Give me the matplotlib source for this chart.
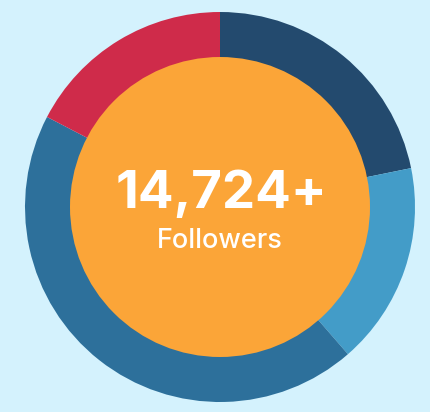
import matplotlib
matplotlib.use("Agg")
import matplotlib.pyplot as plt
from matplotlib.patches import Circle

labels = ["Segment A", "Segment B", "Segment C", "Segment D"]
values = [78.5, 60.5, 158.5, 62.5]
colors = ["#234a6e", "#439cc8", "#2d709b", "#cf2b4a"]
center_value = "14,724+"
center_label = "Followers"

W, H = 431, 412
fig = plt.figure(figsize=(W / 100, H / 100), dpi=100)
fig.patch.set_facecolor("#d4f2fd")
ax = fig.add_axes([0, 0, 1, 1])
ax.set_facecolor("#d4f2fd")

cx, cy = 220, H - 207
ax.pie(values, colors=colors, startangle=90, counterclock=False,
       radius=195, center=(cx, cy), wedgeprops=dict(linewidth=0))
ax.add_patch(Circle((cx, cy), 150, facecolor="#fba538", edgecolor="none", zorder=5))

ax.text(cx + 1, H - 195, center_value, ha="center", va="center", color="white",
        fontsize=38, fontweight="bold", family="Inter", zorder=6)
ax.text(cx, H - 241, center_label, ha="center", va="center", color="white",
        fontsize=19.5, fontweight="medium", family="Inter", zorder=6)

ax.set_xlim(0, W)
ax.set_ylim(0, H)
ax.set_aspect("equal")
ax.axis("off")
fig.savefig("out.png", dpi=100, facecolor=fig.get_facecolor())
